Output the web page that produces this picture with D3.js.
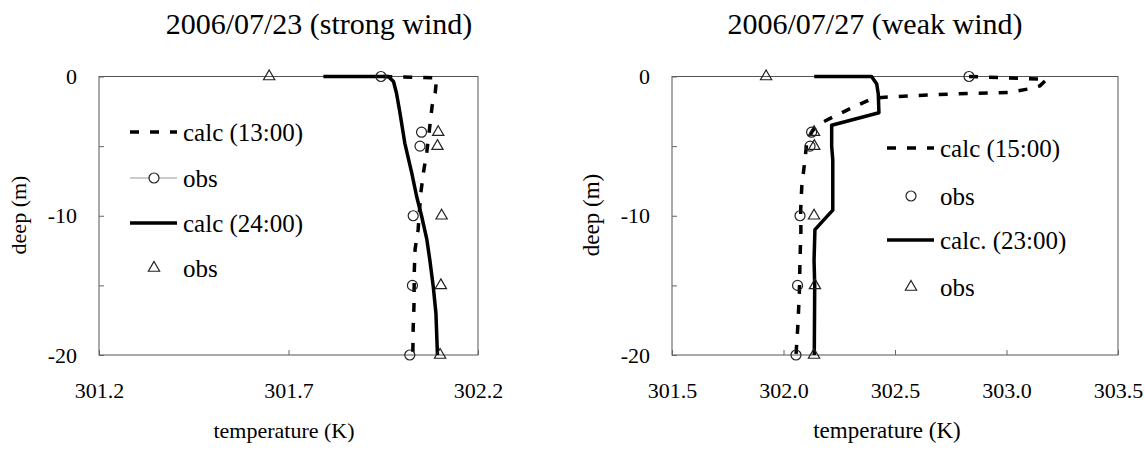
<!DOCTYPE html>
<html>
<head>
<meta charset="utf-8">
<script src="https://cdn.jsdelivr.net/npm/d3@7"></script>
<style>
body { margin: 0; background: #fff; }
.frame { fill: none; stroke: #555; stroke-width: 1; }
.axis path { display: none; }
.axis line { stroke: #666; }
</style>
</head>
<body>
<div id="drawingArea"></div>
<script>
// depth ticks (m), labels only every 10 m
var depthTicks = [0, -5, -10, -15, -20];
var depthLabels = [0, -10, -20];

// 2006/07/23 (strong wind)
var titleA = "2006/07/23 (strong wind)";
var tempTicksA = [301.2, 301.7, 302.2];
var legendA = ["calc (13:00)", "obs", "calc (24:00)", "obs"];
var calc1300Temp = [301.95, 302.091, 302.087, 302.079, 302.071, 302.065, 302.056, 302.049, 302.042, 302.034, 302.032, 302.031, 302.029, 302.028];
var calc1300Depth = [0, -0.1, -1.2, -2.1, -4, -5.4, -6.9, -8.4, -11, -12.4, -13.9, -16.5, -18, -20];
var obs1300Temp = [301.944, 302.051, 302.047, 302.029, 302.027, 302.02];
var obs1300Depth = [0, -4, -5, -10, -15, -20];
var calc2400Temp = [301.792, 301.963, 301.977, 301.985, 301.994, 302.007, 302.025, 302.038, 302.051, 302.065, 302.073, 302.082, 302.089, 302.093];
var calc2400Depth = [0, 0, -0.36, -1.2, -2.6, -4.8, -6.9, -8.6, -10, -11.7, -13.2, -15.1, -17, -20];
var obs2400Temp = [301.649, 302.095, 302.093, 302.104, 302.102, 302.1];
var obs2400Depth = [0, -4, -5, -10, -15, -20];

// 2006/07/27 (weak wind)
var titleB = "2006/07/27 (weak wind)";
var tempTicksB = [301.5, 302.0, 302.5, 303.0, 303.5];
var legendB = ["calc (15:00)", "obs", "calc. (23:00)", "obs"];
var calc1500Temp = [302.832, 303.18, 303.15, 303.096, 303.007, 302.747, 302.492, 302.403, 302.313, 302.223, 302.149, 302.126, 302.104, 302.096, 302.082, 302.077, 302.078, 302.074, 302.071, 302.064, 302.056];
var calc1500Depth = [0, -0.2, -0.67, -0.9, -1.15, -1.26, -1.45, -1.55, -2.2, -2.9, -3.5, -4, -4.8, -6, -7.9, -9.6, -11.1, -13.2, -15.6, -18, -20];
var obs1500Temp = [302.832, 302.126, 302.119, 302.074, 302.063, 302.056];
var obs1500Depth = [0, -4, -5, -10, -15, -20];
var calc2300Temp = [302.138, 302.395, 302.418, 302.425, 302.428, 302.216, 302.216, 302.221, 302.221, 302.141, 302.137, 302.14, 302.138];
var calc2300Depth = [0, 0, -0.54, -1.26, -2.6, -3.5, -5, -6, -9.6, -11, -13.2, -15, -20];
var obs2300Temp = [301.922, 302.137, 302.138, 302.137, 302.141, 302.137];
var obs2300Depth = [0, -4, -5, -10, -15, -20];

var serif = "'Liberation Serif', 'Times New Roman', 'DejaVu Serif', serif";

function zipData(t, d) {
    return t.map(function(v, i) { return {t: v, d: d[i]}; });
}

var svg = d3.select("#drawingArea").append("svg")
    .attr("width", 1145)
    .attr("height", 450);

var dashes = "9,11";

function drawPanel(p) {
    var x = d3.scaleLinear().domain(d3.extent(p.ticks)).range([p.left, p.right]);
    var y = d3.scaleLinear().domain([-20, 0]).range([355, 76.5]);

    var g = svg.append("g");

    // title
    g.append("text")
        .attr("x", p.titleX).attr("y", 34)
        .style("text-anchor", "middle")
        .style("font-family", serif)
        .style("font-size", p.titleSize + "px")
        .text(p.title);

    // frame
    g.append("rect").attr("class", "frame")
        .attr("x", x.range()[0]).attr("y", y(0))
        .attr("width", x.range()[1] - x.range()[0])
        .attr("height", y(-20) - y(0));

    // y axis, ticks pointing inward
    g.append("g").attr("class", "axis")
        .attr("transform", "translate(" + p.left + ",0)")
        .call(d3.axisLeft(y)
            .tickValues(depthTicks)
            .tickSize(-5)
            .tickPadding(22)
            .tickFormat(function(d) { return depthLabels.indexOf(d) >= 0 ? d : ""; }))
        .selectAll("text")
        .style("font-family", serif)
        .style("fill", "#000")
        .style("font-size", p.tickSize + "px");

    // x axis
    g.append("g").attr("class", "axis")
        .attr("transform", "translate(0," + y(-20) + ")")
        .call(d3.axisBottom(x)
            .tickValues(p.ticks)
            .tickSize(-5)
            .tickPadding(27)
            .tickFormat(d3.format(p.fmt)))
        .selectAll("text")
        .style("font-family", serif)
        .style("fill", "#000")
        .style("font-size", p.tickSize + "px");

    // axis titles
    g.append("text")
        .attr("x", p.xTitleX).attr("y", 438)
        .style("text-anchor", "middle")
        .style("font-family", serif)
        .style("font-size", p.axisSize + "px")
        .text("temperature (K)");

    g.append("text")
        .attr("transform", "translate(" + p.yTitleX + ",215) rotate(-90)")
        .attr("dy", "0.35em")
        .style("text-anchor", "middle")
        .style("font-family", serif)
        .style("font-size", p.axisSize + "px")
        .text("deep (m)");

    var line = d3.line()
        .x(function(d) { return x(d.t); })
        .y(function(d) { return y(d.d); });

    g.append("path")
        .datum(zipData(p.calc1T, p.calc1D))
        .attr("fill", "none").attr("stroke", "#000")
        .attr("stroke-width", 3.5).attr("stroke-dasharray", dashes)
        .attr("d", line);

    g.append("path")
        .datum(zipData(p.calc2T, p.calc2D))
        .attr("fill", "none").attr("stroke", "#000")
        .attr("stroke-width", 3.5).attr("stroke-linejoin", "round")
        .attr("d", line);

    g.selectAll(".obs1")
        .data(zipData(p.obs1T, p.obs1D))
        .enter().append("circle")
        .attr("cx", function(d) { return x(d.t); })
        .attr("cy", function(d) { return y(d.d); })
        .attr("r", 5)
        .attr("fill", "none").attr("stroke", "#222").attr("stroke-width", 1.2);

    var tri = d3.symbol().type(d3.symbolTriangle).size(55);
    g.selectAll(".obs2")
        .data(zipData(p.obs2T, p.obs2D))
        .enter().append("path")
        .attr("transform", function(d) { return "translate(" + x(d.t) + "," + y(d.d) + ")"; })
        .attr("d", tri)
        .attr("fill", "none").attr("stroke", "#222").attr("stroke-width", 1.2);

    // legend
    var lg = g.append("g");
    var lx0 = p.legX, lx1 = p.legX + 47, lmid = p.legX + 24;
    lg.append("line").attr("x1", lx0).attr("x2", lx1)
        .attr("y1", p.legY[0]).attr("y2", p.legY[0])
        .attr("stroke", "#000").attr("stroke-width", 3.5).attr("stroke-dasharray", dashes);
    if (p.obsLine) {
        lg.append("line").attr("x1", lx0).attr("x2", lx1)
            .attr("y1", p.legY[1]).attr("y2", p.legY[1])
            .attr("stroke", "#999").attr("stroke-width", 1);
    }
    lg.append("circle").attr("cx", lmid).attr("cy", p.legY[1]).attr("r", 5)
        .attr("fill", "#fff").attr("stroke", "#222").attr("stroke-width", 1.2);
    lg.append("line").attr("x1", lx0).attr("x2", lx1)
        .attr("y1", p.legY[2]).attr("y2", p.legY[2])
        .attr("stroke", "#000").attr("stroke-width", 3.5);
    lg.append("path").attr("transform", "translate(" + lmid + "," + p.legY[3] + ")")
        .attr("d", tri)
        .attr("fill", "none").attr("stroke", "#222").attr("stroke-width", 1.2);

    lg.selectAll(".lab")
        .data(p.legend)
        .enter().append("text")
        .attr("x", lx1 + 6)
        .attr("y", function(d, i) { return p.legY[i]; })
        .attr("dy", "0.35em")
        .style("font-family", serif)
        .style("font-size", p.legSize + "px")
        .text(function(d) { return d; });
}

drawPanel({
    title: titleA, ticks: tempTicksA, fmt: ".1f", legend: legendA,
    left: 99, right: 478, titleX: 319, xTitleX: 284, yTitleX: 18,
    titleSize: 30, tickSize: 22, axisSize: 22, legSize: 25,
    legX: 130, legY: [132, 178, 223, 268], obsLine: true,
    calc1T: calc1300Temp, calc1D: calc1300Depth, obs1T: obs1300Temp, obs1D: obs1300Depth,
    calc2T: calc2400Temp, calc2D: calc2400Depth, obs2T: obs2400Temp, obs2D: obs2400Depth
});

drawPanel({
    title: titleB, ticks: tempTicksB, fmt: ".1f", legend: legendB,
    left: 672, right: 1118, titleX: 875, xTitleX: 887, yTitleX: 591,
    titleSize: 30, tickSize: 22, axisSize: 23, legSize: 25,
    legX: 887, legY: [148, 196, 240, 287], obsLine: false,
    calc1T: calc1500Temp, calc1D: calc1500Depth, obs1T: obs1500Temp, obs1D: obs1500Depth,
    calc2T: calc2300Temp, calc2D: calc2300Depth, obs2T: obs2300Temp, obs2D: obs2300Depth
});
</script>
</body>
</html>
